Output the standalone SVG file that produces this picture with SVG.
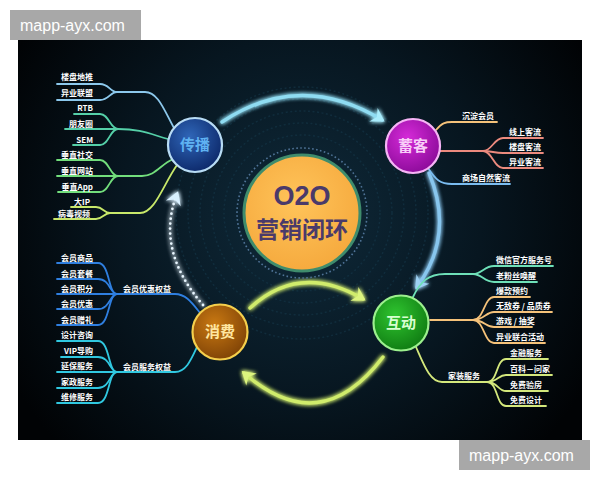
<svg xmlns="http://www.w3.org/2000/svg" width="600" height="480" viewBox="0 0 600 480">
<defs>
<radialGradient id="bg" cx="300" cy="220" r="330" gradientUnits="userSpaceOnUse">
<stop offset="0" stop-color="#0f2a3a"/>
<stop offset="0.55" stop-color="#071620"/>
<stop offset="1" stop-color="#010305"/>
</radialGradient>
<radialGradient id="gCenter" cx="0.45" cy="0.4" r="0.65">
<stop offset="0" stop-color="#ffc45a"/>
<stop offset="1" stop-color="#f5a83c"/>
</radialGradient>
<radialGradient id="gBlue" cx="0.4" cy="0.35" r="0.7">
<stop offset="0" stop-color="#2f66b8"/>
<stop offset="1" stop-color="#0c2768"/>
</radialGradient>
<radialGradient id="gMag" cx="0.4" cy="0.35" r="0.7">
<stop offset="0" stop-color="#d52ad8"/>
<stop offset="1" stop-color="#8a0a98"/>
</radialGradient>
<radialGradient id="gGreen" cx="0.4" cy="0.35" r="0.7">
<stop offset="0" stop-color="#2fc42f"/>
<stop offset="1" stop-color="#0f7a12"/>
</radialGradient>
<radialGradient id="gBrown" cx="0.4" cy="0.35" r="0.7">
<stop offset="0" stop-color="#c87812"/>
<stop offset="1" stop-color="#7e4206"/>
</radialGradient>
<filter id="glow" filterUnits="userSpaceOnUse" x="0" y="0" width="600" height="480">
<feGaussianBlur stdDeviation="2.2" result="b"/>
<feMerge><feMergeNode in="b"/><feMergeNode in="b"/><feMergeNode in="SourceGraphic"/></feMerge>
</filter>
<marker id="mCyan" markerUnits="userSpaceOnUse" markerWidth="30" markerHeight="30" viewBox="-15 -15 30 30" refX="0" refY="0" orient="auto">
<polygon points="-10,-8 3,0 -10,8 -6,0" fill="#a8ecfc"/>
</marker>
<marker id="mBlue" markerUnits="userSpaceOnUse" markerWidth="30" markerHeight="30" viewBox="-15 -15 30 30" refX="0" refY="0" orient="auto">
<polygon points="-10,-8 3,0 -10,8 -6,0" fill="#9ed2f4"/>
</marker>
<marker id="mLime" markerUnits="userSpaceOnUse" markerWidth="30" markerHeight="30" viewBox="-15 -15 30 30" refX="0" refY="0" orient="auto">
<polygon points="-10,-8 3,0 -10,8 -6,0" fill="#dcf47e"/>
</marker>
<marker id="mWhite" markerUnits="userSpaceOnUse" markerWidth="30" markerHeight="30" viewBox="-15 -15 30 30" refX="0" refY="0" orient="auto">
<polygon points="-10,-8 3,0 -10,8 -6,0" fill="#d8f0ff"/>
</marker>
</defs>
<style>
.lbl{font-family:"Noto Sans CJK SC","Noto Sans",sans-serif;font-size:8px;font-weight:bold;fill:#ffffff}
.end{text-anchor:end}
.node{font-family:"Noto Sans CJK SC","Noto Sans",sans-serif;font-size:15px;font-weight:bold;text-anchor:middle}
.br{fill:none;stroke-width:1.8;stroke-linecap:round;stroke-linejoin:round}
.arc{fill:none;stroke-width:3.4;stroke-linecap:round}
.wm{font-family:"Liberation Sans",Arial,sans-serif;font-size:16px;fill:#ffffff}
.tex{fill:none;stroke:#16384a;stroke-width:1.5;stroke-dasharray:2 2.5;opacity:0.55}
</style>
<rect x="0" y="0" width="600" height="480" fill="#ffffff"/>
<rect x="18" y="40" width="564" height="400" fill="url(#bg)"/>
<g id="texture">
<circle class="tex" cx="302" cy="213" r="78"/>
<circle class="tex" cx="302" cy="213" r="90"/>
<circle class="tex" cx="302" cy="213" r="102"/>
<circle class="tex" cx="302" cy="213" r="114"/>
<circle class="tex" cx="302" cy="213" r="126" opacity="0.35"/>
</g>
<g id="connectors">
<g filter="url(#glow)">
<path class="arc" d="M222,122 Q300,70 382,120" stroke="#8fdcf2" marker-end="url(#mCyan)"/>
<path class="arc" d="M429,173 Q455,235 417,287" stroke="#88c6ee" marker-end="url(#mBlue)"/>
<path class="arc" d="M250,308 Q300,262 363,299" stroke="#d0ec6c" marker-end="url(#mLime)"/>
<path class="arc" d="M383,357 Q320,440 244,373" stroke="#d0ec6c" marker-end="url(#mLime)"/>
<path d="M203,305 Q155,250 177,194" fill="none" stroke="#e8f6ff" stroke-width="2.8" stroke-linecap="round" stroke-dasharray="0 5" marker-end="url(#mWhite)"/>
</g>
<g stroke="#8cc8ec">
<path class="br" d="M57,84 H100 C109,84 110,92 117,92"/>
<path class="br" d="M57,100 H100 C109,100 110,92 117,92"/>
<path class="br" d="M117,92 H145 C158,92 164,110 174,128"/>
</g>
<g stroke="#55d0a8">
<path class="br" d="M74,114 H100 C109,114 110,129 118,129"/>
<path class="br" d="M65,129 H118"/>
<path class="br" d="M73,145 H100 C109,145 110,129 118,129"/>
<path class="br" d="M118,129 C140,129 150,134 168,139"/>
</g>
<g stroke="#72de7c">
<path class="br" d="M57,160 H100 C109,160 110,176 118,176"/>
<path class="br" d="M57,176 H118"/>
<path class="br" d="M58,192 H100 C109,192 110,176 118,176"/>
<path class="br" d="M118,176 H142 C155,176 160,165 173,159"/>
</g>
<g stroke="#c8e86a">
<path class="br" d="M71,207 H96 C103,207 104,213 110,213"/>
<path class="br" d="M54,219 H96 C103,219 104,213 110,213"/>
<path class="br" d="M110,213 H140 C155,213 163,185 177,165"/>
</g>
<g stroke="#2f7fe0">
<path class="br" d="M57,263 H98 C110,263 108,294 117,294"/>
<path class="br" d="M57,279 H98 C110,279 110,294 117,294"/>
<path class="br" d="M57,294 H117"/>
<path class="br" d="M57,309 H98 C110,309 110,294 117,294"/>
<path class="br" d="M57,325 H98 C110,325 108,294 117,294"/>
<path class="br" d="M117,294 H175 C186,294 192,303 201,314"/>
</g>
<g stroke="#30c8e0">
<path class="br" d="M57,341 H98 C110,341 108,372 117,372"/>
<path class="br" d="M61,357 H98 C110,357 110,372 117,372"/>
<path class="br" d="M57,372 H117"/>
<path class="br" d="M57,388 H98 C110,388 110,372 117,372"/>
<path class="br" d="M57,403 H98 C110,403 108,372 117,372"/>
<path class="br" d="M117,372 H175 C186,372 191,360 197,347"/>
</g>
<g stroke="#f5c27a">
<path class="br" d="M436,130 C442,123 445,122 452,122 H497"/>
</g>
<g stroke="#ec8a7e">
<path class="br" d="M440,151 H483"/>
<path class="br" d="M483,151 C492,151 494,138 503,138 H543"/>
<path class="br" d="M483,151 C492,151 494,153 503,153 H543"/>
<path class="br" d="M483,151 C492,151 494,168 503,168 H543"/>
</g>
<g stroke="#7abcf0">
<path class="br" d="M428,168 C436,180 440,184 452,184 H510"/>
</g>
<g stroke="#6ee0b8">
<path class="br" d="M413,297 C420,282 428,274 445,274 H473"/>
<path class="br" d="M473,274 C482,274 484,266 494,266 H553"/>
<path class="br" d="M473,274 C482,274 484,282 494,282 H537"/>
</g>
<g stroke="#f5c27a">
<path class="br" d="M430,320 H473"/>
<path class="br" d="M473,320 C484,320 484,297 494,297 H530"/>
<path class="br" d="M473,320 C484,320 486,312 494,312 H552"/>
<path class="br" d="M473,320 C484,320 486,327 494,327 H532"/>
<path class="br" d="M473,320 C484,320 484,343 494,343 H545"/>
</g>
<g stroke="#d4e87c">
<path class="br" d="M416,347 C424,365 430,382 442,382 H487"/>
<path class="br" d="M487,382 C498,382 496,359 506,359 H548"/>
<path class="br" d="M487,382 C498,382 498,375 506,375 H552"/>
<path class="br" d="M487,382 C498,382 498,391 506,391 H548"/>
<path class="br" d="M487,382 C498,382 496,406 506,406 H546"/>
</g>
</g>
<g id="node-center">
<circle cx="302" cy="213" r="65" fill="none" stroke="#4f7396" stroke-width="1.6" stroke-dasharray="1.6 2.4"/>
<circle cx="302" cy="213" r="58" fill="url(#gCenter)" stroke="#3f8c6c" stroke-width="3"/>
<text x="302" y="205" font-family="'Liberation Sans',Arial,sans-serif" font-size="27" font-weight="bold" fill="#4a3a6a" text-anchor="middle">O2O</text>
<text x="302" y="238" font-family="'Noto Sans CJK SC',sans-serif" font-size="23" font-weight="bold" fill="#4a3a6a" text-anchor="middle">营销闭环</text>
</g>
<g id="node-chuanbo">
<circle cx="195" cy="145" r="27" fill="url(#gBlue)" stroke="#b8dcf5" stroke-width="2.2"/>
<text class="node" x="195" y="150" fill="#5fb2f2">传播</text>
</g>
<g id="node-xuke">
<circle cx="413" cy="146" r="27" fill="url(#gMag)" stroke="#f6b4f6" stroke-width="2.2"/>
<text class="node" x="413" y="151" fill="#f8cdf8">蓄客</text>
</g>
<g id="node-hudong">
<circle cx="401" cy="323" r="27.5" fill="url(#gGreen)" stroke="#9cf08e" stroke-width="2.2"/>
<text class="node" x="401" y="328" fill="#d8ffd0">互动</text>
</g>
<g id="node-xiaofei">
<circle cx="220" cy="332" r="27.5" fill="url(#gBrown)" stroke="#f5cf4c" stroke-width="2.2"/>
<text class="node" x="220" y="337" fill="#ffe6a0">消费</text>
</g>
<g id="labels-chuanbo">
<text class="lbl end" x="93" y="80">楼盘地推</text>
<text class="lbl end" x="93" y="96">异业联盟</text>
<text class="lbl end" x="93" y="111">RTB</text>
<text class="lbl end" x="93" y="127">朋友圈</text>
<text class="lbl end" x="93" y="143">SEM</text>
<text class="lbl end" x="93" y="158">垂直社交</text>
<text class="lbl end" x="93" y="174">垂直网站</text>
<text class="lbl end" x="93" y="190">垂直App</text>
<text class="lbl end" x="90" y="205">大IP</text>
<text class="lbl end" x="90" y="217">病毒视频</text>
</g>
<g id="labels-xiaofei">
<text class="lbl end" x="93" y="261">会员商品</text>
<text class="lbl end" x="93" y="277">会员套餐</text>
<text class="lbl end" x="93" y="292">会员积分</text>
<text class="lbl end" x="93" y="307">会员优惠</text>
<text class="lbl end" x="93" y="323">会员赠礼</text>
<text class="lbl" x="123" y="292">会员优惠权益</text>
<text class="lbl end" x="93" y="338">设计咨询</text>
<text class="lbl end" x="93" y="354">VIP导购</text>
<text class="lbl end" x="93" y="369">延保服务</text>
<text class="lbl end" x="93" y="385">家政服务</text>
<text class="lbl end" x="93" y="400">维修服务</text>
<text class="lbl" x="123" y="370">会员服务权益</text>
</g>
<g id="labels-xuke">
<text class="lbl" x="462" y="119">沉淀会员</text>
<text class="lbl" x="509" y="135">线上客流</text>
<text class="lbl" x="509" y="150">楼盘客流</text>
<text class="lbl" x="509" y="165">异业客流</text>
<text class="lbl" x="462" y="181">商场自然客流</text>
</g>
<g id="labels-hudong">
<text class="lbl" x="496" y="263">微信官方服务号</text>
<text class="lbl" x="496" y="279">老粉丝唤醒</text>
<text class="lbl" x="496" y="294">爆款预约</text>
<text class="lbl" x="496" y="309">无敌券 / 品质券</text>
<text class="lbl" x="496" y="324">游戏 / 抽奖</text>
<text class="lbl" x="496" y="340">异业联合活动</text>
<text class="lbl" x="448" y="379">家装服务</text>
<text class="lbl" x="510" y="356">金融服务</text>
<text class="lbl" x="510" y="372">百科－问家</text>
<text class="lbl" x="510" y="388">免费验房</text>
<text class="lbl" x="510" y="403">免费设计</text>
</g>
<g id="watermarks">
<rect x="10" y="10" width="131" height="30" fill="#a8a8a8"/>
<text class="wm" x="20" y="31">mapp-ayx.com</text>
<rect x="459" y="440" width="131" height="30" fill="#a8a8a8"/>
<text class="wm" x="469" y="461">mapp-ayx.com</text>
</g>
</svg>
